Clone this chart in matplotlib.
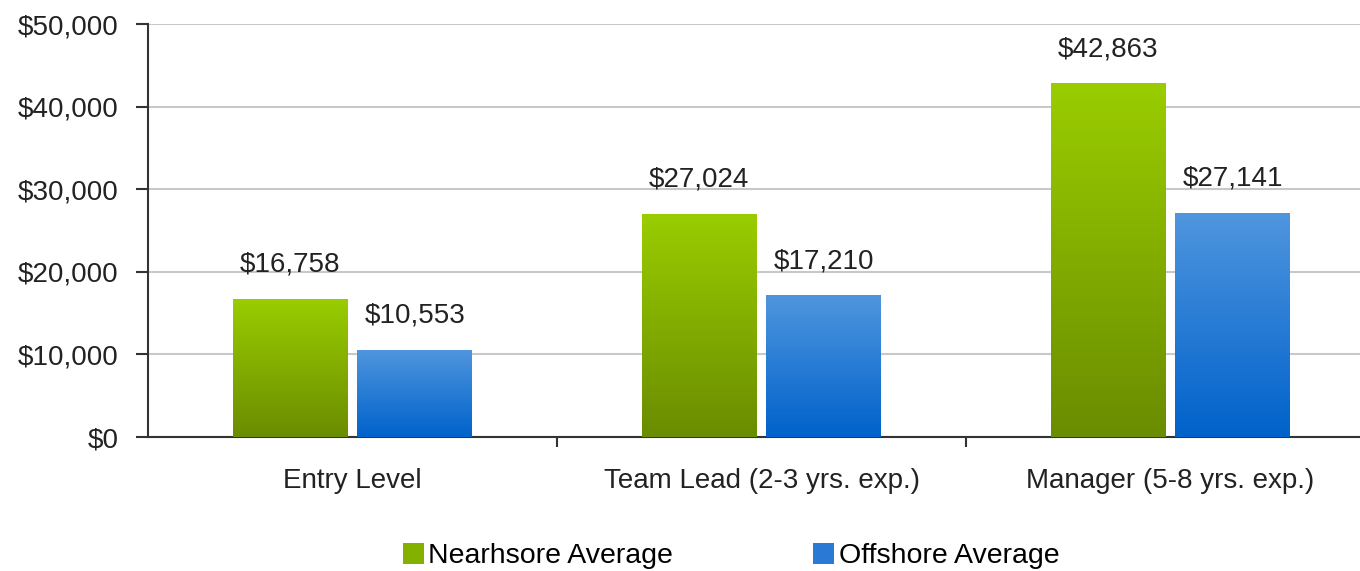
import matplotlib.pyplot as plt
import numpy as np
from matplotlib.patches import Patch
from matplotlib.colors import LinearSegmentedColormap
from matplotlib.ticker import FuncFormatter

plt.rcParams["font.family"] = ["Liberation Sans", "DejaVu Sans"]
plt.rcParams["font.size"] = 20

categories = ["Entry Level", "Team Lead (2-3 yrs. exp.)", "Manager (5-8 yrs. exp.)"]
nearshore = [16758, 27024, 42863]
offshore = [10553, 17210, 27141]
series_names = ["Nearhsore Average", "Offshore Average"]

green_top, green_bot = "#9acd00", "#6a8c00"
blue_top, blue_bot = "#5096de", "#0062cb"

fig = plt.figure(figsize=(13.6, 5.71), dpi=100)
ax = fig.add_axes([148 / 1360, 1 - 437 / 571, 1227 / 1360, 413 / 571])

x = np.arange(len(categories))
w = 0.28
off = 0.152


def grad_bars(xs, vals, top, bot):
    cmap = LinearSegmentedColormap.from_list("g", [bot, top])
    grad = np.linspace(0, 1, 256).reshape(-1, 1)
    bars = ax.bar(xs, vals, w, color="none", edgecolor="none", zorder=3)
    for b in bars:
        bx, by = b.get_x(), b.get_y()
        bw, bh = b.get_width(), b.get_height()
        im = ax.imshow(grad, cmap=cmap, origin="lower", aspect="auto",
                       extent=[bx, bx + bw, by, by + bh], zorder=3)
        im.set_clip_path(b)
    return bars


b1 = grad_bars(x - off, nearshore, green_top, green_bot)
b2 = grad_bars(x + off, offshore, blue_top, blue_bot)

for bars, vals in [(b1, nearshore), (b2, offshore)]:
    for b, v in zip(bars, vals):
        ax.annotate("${:,}".format(v), (b.get_x() + b.get_width() / 2, v),
                    xytext=(0, 15), textcoords="offset points",
                    ha="center", va="bottom", color="#222222")

ax.set_xlim(-0.5, 2.5)
ax.set_ylim(0, 50000)
ax.set_yticks(np.arange(0, 50001, 10000))
ax.yaxis.set_major_formatter(FuncFormatter(lambda v, p: "${:,.0f}".format(v)))
ax.yaxis.grid(True, color="#c8c8c8", linewidth=1.5, zorder=0)
ax.set_axisbelow(True)

ax.set_xticks(x)
ax.set_xticklabels(categories)
ax.tick_params(axis="x", length=0, pad=22, labelcolor="#222222")
ax.set_xticks([0.5, 1.5], minor=True)
ax.tick_params(axis="x", which="minor", length=7, width=1.5, color="#333333")
ax.tick_params(axis="y", length=9, width=1.5, color="#333333", labelcolor="#222222", pad=12)

for s in ["top", "right"]:
    ax.spines[s].set_visible(False)
for s in ["left", "bottom"]:
    ax.spines[s].set_color("#333333")
    ax.spines[s].set_linewidth(1.5)

handles = [Patch(facecolor="#84b000", edgecolor="none"),
           Patch(facecolor="#2a7ad5", edgecolor="none")]
fig.legend(handles, series_names, loc="center", bbox_to_anchor=(0.5375, 0.026),
           ncol=2, frameon=False, handlelength=0.75, handleheight=0.75,
           handletextpad=0.15, columnspacing=4.9, fontsize=20.5)

fig.savefig("out.png", dpi=100)
